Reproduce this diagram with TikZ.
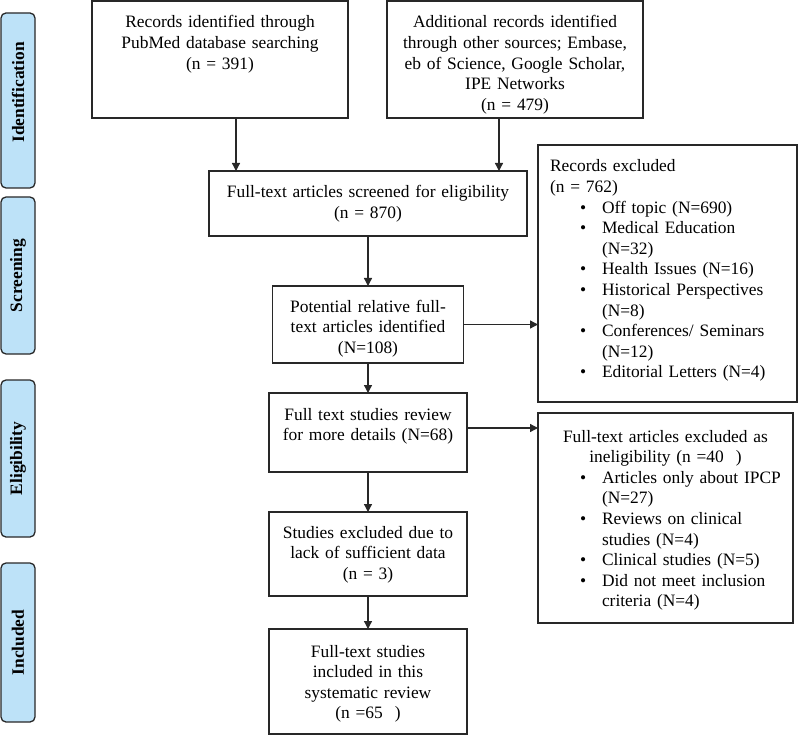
\documentclass[tikz,border=0pt]{standalone}
\usepackage{fontspec}
\setmainfont{Liberation Serif}
\usetikzlibrary{arrows.meta,positioning}

\definecolor{phaseblue}{RGB}{189,226,248}
\definecolor{boxline}{RGB}{40,40,40}
\newcommand{\bitem}[1]{\hspace*{30pt}\makebox[22pt][l]{\textbullet}#1}
\newcommand{\bcont}[1]{\hspace*{52pt}#1}

\begin{document}
\begin{tikzpicture}[->,>={Triangle[length=8pt,width=8pt]},x=1pt,y=-1pt,line width=1.3pt,draw=boxline]
      \tikzstyle{box}=[draw=boxline,line width=1.3pt,outer sep=0pt,inner xsep=0pt,inner ysep=0pt,align=center,font=\fontsize{17.4}{20.6}\selectfont]
      \tikzstyle{list}=[box,align=left,inner xsep=12pt]
      \tikzstyle{phase}=[draw=boxline,line width=1.3pt,fill=phaseblue,rounded corners=5pt,rotate=90,minimum height=34pt,inner sep=0pt,font=\fontsize{17.4}{20.6}\selectfont\bfseries]

      \useasboundingbox (0,0) rectangle (800,735);

      % phases
      \node[phase,minimum width=175pt] (P1) at (18,100.5) {\hspace*{16pt}Identification};
      \node[phase,minimum width=157pt] (P2) at (18,275.5) {Screening};
      \node[phase,minimum width=157pt] (P3) at (18,458.5) {Eligibility};
      \node[phase,minimum width=159pt] (P4) at (18,642.5) {Included};

      % main column
      \node[box,anchor=north,text width=256pt,text height=27pt,text depth=90pt] (A) at (220,1)
            {Records identified through\\ PubMed database searching\\ (n = 391)};
      \node[box,anchor=north,text width=256pt,text height=27pt,text depth=90pt] (B) at (515,1)
            {Additional records identified\\ through other sources; Embase,\\ eb of Science, Google Scholar,\\ IPE Networks\\ (n = 479)};
      \node[box,anchor=north,text width=318pt,text height=27pt,text depth=38pt] (C) at (368,171)
            {Full-text articles screened for eligibility\\ (n = 870)};
      \node[box,below=50pt of C,text width=191pt,text height=26pt,text depth=51pt] (D)
            {Potential relative full-\\ text articles identified\\ (N=108)};
      \node[box,below=30pt of D,text width=198pt,text height=27pt,text depth=52pt] (F)
            {Full text studies review\\ for more details (N=68)};
      \node[box,below=40pt of F,text width=198pt,text height=26pt,text depth=58pt] (H)
            {Studies excluded due to\\ lack of sufficient data\\ (n = 3)};
      \node[box,below=33pt of H,text width=198pt,text height=28pt,text depth=77pt] (I)
            {Full-text studies\\ included in this\\ systematic review\\ (n =65\hspace{12pt})};

      % exclusions
      \node[list,anchor=north west,text width=235pt,text height=27pt,text depth=230pt] (E) at (538,145)
            {Records excluded\\ (n = 762)\\
             \bitem{Off topic (N=690)}\\
             \bitem{Medical Education}\\ \bcont{(N=32)}\\
             \bitem{Health Issues (N=16)}\\
             \bitem{Historical Perspectives}\\ \bcont{(N=8)}\\
             \bitem{Conferences/ Seminars}\\ \bcont{(N=12)}\\
             \bitem{Editorial Letters (N=4)}};
      \node[list,anchor=north west,text width=231pt,text height=29pt,text depth=181pt] (G) at (538,413)
            {\makebox[231pt]{Full-text articles excluded as}\\
             \makebox[231pt]{ineligibility (n =40\hspace{12pt})}\\
             \bitem{Articles only about IPCP}\\ \bcont{(N=27)}\\
             \bitem{Reviews on clinical}\\ \bcont{studies (N=4)}\\
             \bitem{Clinical studies (N=5)}\\
             \bitem{Did not meet inclusion}\\ \bcont{criteria (N=4)}};

      \coordinate (a1) at ([xshift=16pt]A.south);
      \coordinate (b1) at ([xshift=-16pt]B.south);
      \coordinate (f1) at ([yshift=4.5pt]F.east);

      \path (a1) edge (a1 |- C.north)
            (b1) edge (b1 |- C.north)
            (C) edge (D)
            (D) edge (D -| E.west)
            (D) edge (F)
            (f1) edge (f1 -| G.west)
            (F) edge (H)
            (H) edge (I);
\end{tikzpicture}
\end{document}
